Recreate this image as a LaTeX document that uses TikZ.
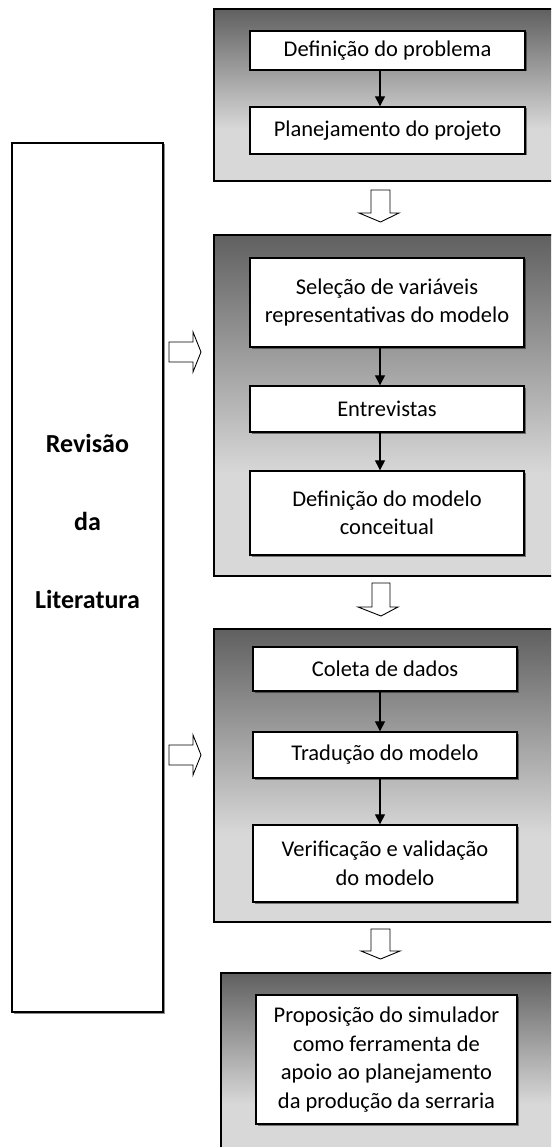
\documentclass[tikz,border=0pt]{standalone}
\usepackage{fontspec}
\setmainfont{Carlito}
\usetikzlibrary{arrows.meta,shadows}
\definecolor{pdark}{RGB}{96,96,96}
\definecolor{plight}{RGB}{216,216,216}
\pgfdeclareverticalshading{panelshade}{100bp}{color(0bp)=(plight); color(25bp)=(plight); color(40bp)=(plight); color(75bp)=(pdark); color(100bp)=(pdark)}
\begin{document}
\begin{tikzpicture}[x=1pt,y=-1pt,
  panel/.style={draw=black, line width=1.2pt, shading=panelshade},
  stepbox/.style={draw=black, line width=1.4pt, fill=white, align=center, inner sep=0pt,
    font=\fontsize{22.5}{28.5}\selectfont,
    drop shadow={shadow xshift=1.5pt, shadow yshift=-1.5pt, fill=black, opacity=0.45}},
  flow/.style={line width=1.3pt, -{Triangle[width=10pt,length=10pt]}},
  blockarrow/.style={draw=black, line width=0.9pt, fill=white, line join=miter},
  bigtext/.style={font=\fontsize{26}{32}\selectfont\bfseries, anchor=base}]
\useasboundingbox (0,0) rectangle (551,1147);
\clip (0,0) rectangle (551,1147);
\fill[white] (0,0) rectangle (551,1147);

% left box
\node[draw=black, line width=1.3pt, fill=white, minimum width=151pt, minimum height=869pt, inner sep=0pt,
  drop shadow={shadow xshift=1.5pt, shadow yshift=-1.5pt, fill=black, opacity=0.45}] (lit) at (87.5,577.5) {};
\node[bigtext] (t1) at (87.5,452) {Revisão};
\node[bigtext] (t2) at (87.5,530) {da};
\node[bigtext] (t3) at (87.5,608) {Literatura};

% panels
\path[panel] (214,9) rectangle (560,181);
\path[panel] (214,235) rectangle (560,576);
\path[panel] (214,629) rectangle (560,922);
\path[panel] (221,973) rectangle (560,1160);

% panel 1
\node[stepbox, minimum width=275pt, minimum height=39pt] (b1a) at (387.5,50.5) {Definição do problema};
\node[stepbox, minimum width=275pt, minimum height=47pt] (b1b) at (387.5,130.5) {Planejamento do projeto};
% panel 2
\node[stepbox, minimum width=274pt, minimum height=89pt] (b2a) at (387,302.5) {Seleção de variáveis\\representativas do modelo};
\node[stepbox, minimum width=274pt, minimum height=46pt] (b2b) at (387,409) {Entrevistas};
\node[stepbox, minimum width=274pt, minimum height=84pt] (b2c) at (387,513) {Definição do modelo\\conceitual};
% panel 3
\node[stepbox, minimum width=264pt, minimum height=44pt] (b3a) at (385,669) {Coleta de dados};
\node[stepbox, minimum width=264pt, minimum height=46pt] (b3b) at (385,755) {Tradução do modelo};
\node[stepbox, minimum width=264pt, minimum height=77pt] (b3c) at (385,863.5) {Verificação e validação\\do modelo};
% panel 4
\node[stepbox, minimum width=261pt, minimum height=129pt] (b4) at (386.5,1059.5) {Proposição do simulador\\como ferramenta de\\apoio ao planejamento\\da produção da serraria};

% inner arrows
\coordinate (ax) at (380,0);
\draw[flow] (ax |- b1a.south) -- (ax |- b1b.north);
\draw[flow] (ax |- b2a.south) -- (ax |- b2b.north);
\draw[flow] (ax |- b2b.south) -- (ax |- b2c.north);
\draw[flow] (ax |- b3a.south) -- (ax |- b3b.north);
\draw[flow] (ax |- b3b.south) -- (ax |- b3c.north);

% block arrows down
\draw[blockarrow] (371,190) -- (390,190) -- (390,213) -- (399,213) -- (380.5,222) -- (359,213) -- (371,213) -- cycle;
\draw[blockarrow] (372,583) -- (390,583) -- (390,607) -- (398,607) -- (381,616) -- (358,607) -- (372,607) -- cycle;
\draw[blockarrow] (371,929) -- (390,929) -- (390,951) -- (400,951) -- (380.5,959) -- (361,951) -- (371,951) -- cycle;
% block arrows right
\draw[blockarrow] (169,342) -- (193,342) -- (193,332) -- (201,352) -- (193,372) -- (193,362) -- (169,362) -- cycle;
\draw[blockarrow] (169,745) -- (193,745) -- (193,735) -- (201,755) -- (193,775) -- (193,765) -- (169,765) -- cycle;
\end{tikzpicture}
\end{document}
